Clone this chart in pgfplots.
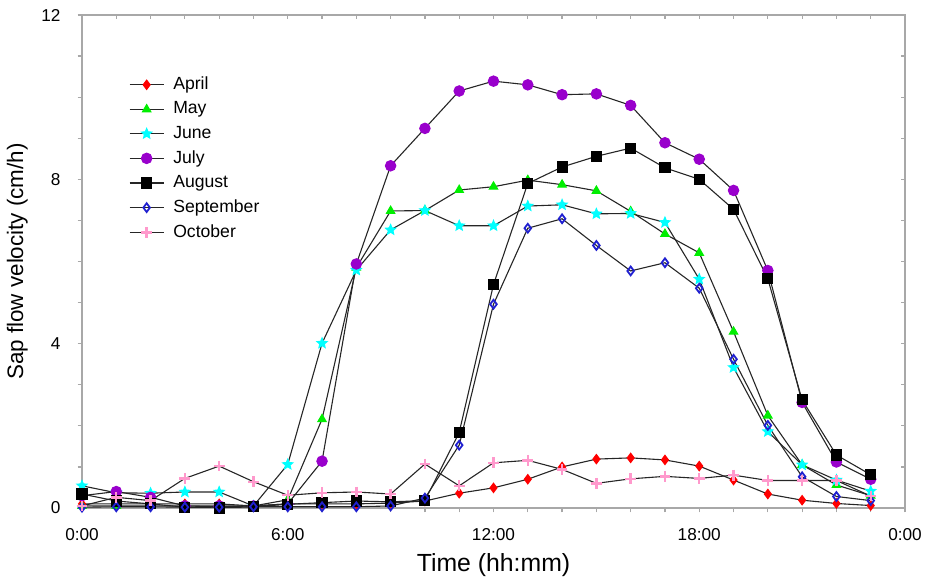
\documentclass[border=0pt]{standalone}
\usepackage{fontspec}
\setmainfont{Liberation Sans}
\usepackage{pgfplots}
\pgfplotsset{compat=1.18}

\definecolor{cApr}{HTML}{FF0000}
\definecolor{cMay}{HTML}{00EE00}
\definecolor{cJun}{HTML}{00FFFF}
\definecolor{cJul}{HTML}{9900CC}
\definecolor{cAug}{HTML}{000000}
\definecolor{cSep}{HTML}{2020D0}
\definecolor{cOct}{HTML}{FF99CC}
\definecolor{axgray}{HTML}{A8A8A8}

% filled five-pointed star
\pgfdeclareplotmark{fstar}{%
  \pgfpathmoveto{\pgfpointpolar{90}{\pgfplotmarksize}}%
  \pgfpathlineto{\pgfpointpolar{126}{0.45\pgfplotmarksize}}%
  \pgfpathlineto{\pgfpointpolar{162}{\pgfplotmarksize}}%
  \pgfpathlineto{\pgfpointpolar{198}{0.45\pgfplotmarksize}}%
  \pgfpathlineto{\pgfpointpolar{234}{\pgfplotmarksize}}%
  \pgfpathlineto{\pgfpointpolar{270}{0.45\pgfplotmarksize}}%
  \pgfpathlineto{\pgfpointpolar{306}{\pgfplotmarksize}}%
  \pgfpathlineto{\pgfpointpolar{342}{0.45\pgfplotmarksize}}%
  \pgfpathlineto{\pgfpointpolar{18}{\pgfplotmarksize}}%
  \pgfpathlineto{\pgfpointpolar{54}{0.45\pgfplotmarksize}}%
  \pgfpathclose\pgfusepathqfillstroke}

\pgfplotsset{
  sapline/.style={color=black!85, line width=0.55pt},
  frame/.style={
    scale only axis, width=411.5pt, height=246.5pt,
    xmin=0, xmax=24, ymin=0, ymax=12,
    xtick={0,6,12,18,24}, minor x tick num=5,
    ytick={0,4,8,12}, minor y tick num=3,
    major tick length=2.2pt, minor tick length=2.2pt,
    tick style={axgray, line width=0.6pt},
  },
}

\begin{document}
\begin{tikzpicture}
\path[use as bounding box] (-41pt,-37.5pt) rectangle (427pt,254pt);

\begin{axis}[frame,
  axis line style={axgray, line width=0.6pt},
  tick align=outside, xtick pos=left, ytick pos=left,
  xticklabels={0:00,6:00,12:00,18:00,0:00},
  /pgf/number format/assume math mode=true,
  tick label style={font=\fontsize{8.6}{10}\selectfont},
  xticklabel style={yshift=-4.5pt},
  yticklabel style={xshift=-5pt},
  xlabel={Time (hh:mm)}, ylabel={Sap flow velocity (cm/h)},
  xlabel style={font=\fontsize{12.4}{14}\selectfont, yshift=0.5pt},
  ylabel style={font=\fontsize{11.2}{13}\selectfont, yshift=0pt},
  legend style={draw=none, fill=none, at={(axis cs:1.36,10.6)}, anchor=north west,
    font=\fontsize{8.8}{10}\selectfont, row sep=0.6pt, inner sep=0pt,
    /tikz/every odd column/.style={column sep=2.5pt}},
  legend cell align=left,
]
\addplot[sapline, mark=diamond*, mark size=2.3pt, mark options={solid, draw=cApr, fill=cApr}]
  coordinates {(0,0.10)(1,0.10)(2,0.10)(3,0.10)(4,0.10)(5,0.05)(6,0.10)(7,0.10)(8,0.10)(9,0.12)(10,0.17)(11,0.36)
  (12,0.49)(13,0.70)(14,1.00)(15,1.19)(16,1.22)(17,1.17)(18,1.02)(19,0.68)(20,0.34)(21,0.19)(22,0.11)(23,0.06)};
\addlegendentry{April}
\addplot[sapline, mark=triangle*, mark size=2.4pt, mark options={solid, draw=cMay, fill=cMay}]
  coordinates {(0,0.05)(1,0.05)(2,0.05)(3,0.05)(4,0.03)(5,0.05)(6,0.20)(7,2.16)(8,5.85)(9,7.23)(10,7.24)(11,7.74)
  (12,7.82)(13,7.98)(14,7.87)(15,7.72)(16,7.22)(17,6.67)(18,6.21)(19,4.29)(20,2.25)(21,1.05)(22,0.56)(23,0.30)};
\addlegendentry{May}
\addplot[sapline, mark=fstar, mark size=2.6pt, mark options={solid, draw=cJun, fill=cJun}]
  coordinates {(0,0.54)(1,0.37)(2,0.36)(3,0.39)(4,0.39)(5,0.05)(6,1.06)(7,4.01)(8,5.79)(9,6.77)(10,7.24)(11,6.87)
  (12,6.87)(13,7.35)(14,7.38)(15,7.16)(16,7.17)(17,6.95)(18,5.57)(19,3.42)(20,1.86)(21,1.05)(22,0.68)(23,0.41)};
\addlegendentry{June}
\addplot[sapline, mark=*, mark size=2.6pt, mark options={solid, draw=cJul, fill=cJul}]
  coordinates {(0,0.30)(1,0.40)(2,0.26)(3,0.05)(4,0.05)(5,0.05)(6,0.10)(7,1.14)(8,5.94)(9,8.33)(10,9.24)(11,10.15)
  (12,10.39)(13,10.30)(14,10.06)(15,10.08)(16,9.80)(17,8.89)(18,8.49)(19,7.73)(20,5.78)(21,2.57)(22,1.12)(23,0.70)};
\addlegendentry{July}
\addplot[sapline, mark=square*, mark size=2.5pt, mark options={solid, draw=cAug, fill=cAug}]
  coordinates {(0,0.34)(1,0.17)(2,0.10)(3,0.02)(4,0.00)(5,0.03)(6,0.09)(7,0.13)(8,0.17)(9,0.15)(10,0.18)(11,1.84)
  (12,5.44)(13,7.90)(14,8.30)(15,8.56)(16,8.76)(17,8.28)(18,8.00)(19,7.27)(20,5.58)(21,2.63)(22,1.29)(23,0.81)};
\addlegendentry{August}
\addplot[sapline, mark=diamond, mark size=2.2pt, mark options={solid, draw=cSep, line width=0.9pt}]
  coordinates {(0,0.02)(1,0.03)(2,0.03)(3,0.02)(4,0.02)(5,0.03)(6,0.03)(7,0.03)(8,0.03)(9,0.05)(10,0.24)(11,1.53)
  (12,4.96)(13,6.81)(14,7.04)(15,6.39)(16,5.77)(17,5.97)(18,5.35)(19,3.62)(20,2.01)(21,0.76)(22,0.28)(23,0.18)};
\addlegendentry{September}
\addplot[sapline, mark=+, mark size=2.7pt, mark options={solid, draw=cOct, line width=1.2pt}]
  coordinates {(0,0.05)(1,0.26)(2,0.18)(3,0.72)(4,1.02)(5,0.64)(6,0.31)(7,0.37)(8,0.39)(9,0.34)(10,1.07)(11,0.54)
  (12,1.10)(13,1.16)(14,0.94)(15,0.60)(16,0.71)(17,0.77)(18,0.72)(19,0.80)(20,0.67)(21,0.67)(22,0.67)(23,0.29)};
\addlegendentry{October}
\end{axis}

\begin{axis}[frame,
  axis line style={draw=none},
  tick align=inside, xtick pos=right, ytick pos=right,
  xticklabels={}, yticklabels={},
]
\end{axis}
\end{tikzpicture}
\end{document}
